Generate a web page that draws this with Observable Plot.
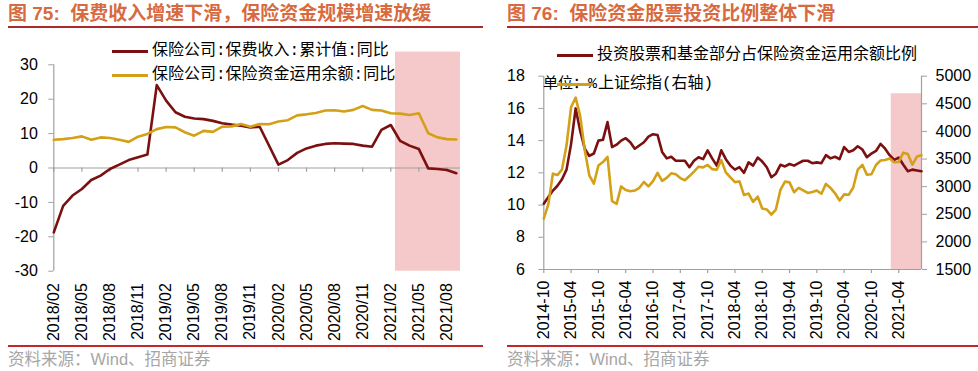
<!DOCTYPE html>
<html><head><meta charset="utf-8">
<script src="https://cdn.jsdelivr.net/npm/d3@7"></script>
<script src="https://cdn.jsdelivr.net/npm/@observablehq/plot@0.6"></script>
<style>
body{margin:0;background:#fff;}
#root{position:relative;width:978px;height:371px;overflow:hidden;font-family:"Liberation Sans","Noto Sans CJK SC",sans-serif;}
#root svg{position:absolute;overflow:visible;}
.abs{position:absolute;white-space:pre;}
.title{font-size:19px;font-weight:bold;color:#D86A40;line-height:19px;}
.hr{position:absolute;height:2px;background:#A82A2A;}
.hr2{position:absolute;height:2px;background:#C4262B;}
.src{font-size:16.5px;color:#A6A6A6;line-height:16px;}
.leg{font-size:16px;font-family:"Liberation Mono","Noto Sans CJK SC",monospace;line-height:16px;color:#000;}
.sw{position:absolute;height:3px;}
</style></head>
<body><div id="root"></div>
<script>
// ---------- Figure 75 data ----------
const labels75 = ["2018/02","2018/05","2018/08","2018/11","2019/02","2019/05","2019/08","2019/11","2020/02","2020/05","2020/08","2020/11","2021/02","2021/05","2021/08"];
const premiumYoY = [-18.7,-11.0,-8.0,-6.1,-3.5,-2.2,-0.3,1.0,2.3,3.1,3.9,24.1,19.6,16.2,14.9,14.4,14.2,13.7,13.0,12.6,12.3,11.8,12.0,null,1.0,2.3,4.4,5.7,6.5,7.0,7.2,7.1,7.0,6.5,6.2,11.1,12.5,7.9,6.5,5.5,-0.1,-0.3,-0.6,-1.5];
const fundsYoY = [8.2,8.4,8.7,9.2,8.2,8.9,8.7,8.2,7.6,9.1,9.9,11.3,11.9,11.8,10.4,9.4,10.8,10.5,12.0,12.1,12.8,12.0,12.8,12.7,13.5,13.9,15.3,15.6,16.0,16.7,16.8,16.4,16.9,18.0,16.9,16.7,15.9,15.8,15.4,15.9,10.1,8.9,8.4,8.3];
const yTicks75 = [-30,-20,-10,0,10,20,30];
const shade75 = {from:"2021/03", to:"2021/09", top:33.7};
const name75a = "保险公司:保费收入:累计值:同比";
const name75b = "保险公司:保险资金运用余额:同比";

// ---------- Figure 76 data ----------
const labels76 = ["2014-10","2015-04","2015-10","2016-04","2016-10","2017-04","2017-10","2018-04","2018-10","2019-04","2019-10","2020-04","2020-10","2021-04"];
const stockRatio = [10.08,10.5,10.9,11.2,11.6,12.2,13.8,16.0,14.6,13.5,13.05,13.2,14.0,14.05,15.15,13.6,13.75,14.0,14.15,13.9,13.5,13.7,13.9,14.25,14.4,14.35,13.3,12.9,13.0,12.75,12.75,12.75,12.35,12.75,12.97,12.85,13.4,12.9,12.45,13.4,12.85,12.45,12.2,12.35,12.0,12.65,12.45,12.95,12.7,12.35,11.73,11.95,12.5,12.4,12.55,12.45,12.6,12.75,12.75,12.6,12.65,12.6,13.1,12.9,13.0,12.85,13.6,13.3,13.4,13.65,13.45,12.97,13.2,13.36,13.8,13.5,13.1,12.8,12.95,12.5,12.1,12.2,12.15,12.1];
const shIndex = [2420,2683,3235,3210,3310,3748,4442,4612,4277,3664,3206,3053,3383,3445,3539,2738,2688,3004,2938,2917,2930,2979,3085,3005,3100,3250,3104,3159,3242,3223,3155,3117,3192,3273,3361,3349,3393,3317,3307,3481,3259,3169,3082,3095,2847,2876,2725,2821,2603,2588,2494,2585,2941,3091,3078,2899,2979,2933,2886,2905,2929,2872,3050,2977,2880,2750,2860,2852,2985,3310,3396,3218,3225,3392,3473,3483,3509,3442,3447,3615,3591,3397,3544,3568];
const yTicks76L = [6,8,10,12,14,16,18];
const yTicks76R = [1500,2000,2500,3000,3500,4000,4500,5000];
const shade76 = {from:"2021-02", to:"2021-09", top:4682};
const name76a = "投资股票和基金部分占保险资金运用余额比例";
const name76b = "上证综指(右轴)";
const unit76 = "单位：%";

const RED = "#7B1010", GOLD = "#D4A017", PINK = "#F5C8C9", AX = "#A0A0A0";

const root = document.getElementById("root");
function el(cls, txt, css){const d=document.createElement("div");d.className=cls;if(txt!=null)d.textContent=txt;Object.assign(d.style,css);root.appendChild(d);return d;}

// ---------- categories ----------
const cats75 = d3.utcMonths(new Date(Date.UTC(2018,1,1)), new Date(Date.UTC(2021,9,1))).map(d3.utcFormat("%Y/%m"));
const cats76 = d3.utcMonths(new Date(Date.UTC(2014,9,1)), new Date(Date.UTC(2021,9,1))).map(d3.utcFormat("%Y-%m"));
const data75 = cats75.map((m,i)=>({i, m, p: premiumYoY[i], f: fundsYoY[i]}));
const data76 = cats76.map((m,i)=>({i, m, r: stockRatio[i], s: shIndex[i]}));
const tick75 = labels75.map(l=>cats75.indexOf(l));
const tick76 = labels76.map(l=>cats76.indexOf(l));
const n75 = cats75.length-1, n76 = cats76.length-1;

const style = {fontFamily:"'Liberation Sans', Arial, sans-serif", fontSize:"16px", background:"transparent", color:"#000"};

// ---------- left chart ----------
const left = Plot.plot({
  width: 490, height: 305,
  marginLeft: 53.3, marginRight: 34.2, marginTop: 24.3, marginBottom: 74.3,
  x: {type:"linear", domain:[0, n75], axis:null},
  y: {domain:[-30,30], axis:null},
  style,
  marks: [
    Plot.rect([shade75], {x1: d=>cats75.indexOf(d.from)-0.5, x2: d=>cats75.indexOf(d.to)+0.45, y1: -30, y2: d=>d.top, fill: PINK}),
    Plot.ruleX([0], {y1:-30, y2:30, stroke: AX, strokeWidth:1.2}),
    Plot.ruleY([0], {x1:0, x2:n75+0.45, stroke: AX, strokeWidth:1.2}),
    Plot.ruleX(tick75, {x: d=>d, y1:0, y2:-1.25, stroke: AX, strokeWidth:1.2}),
    Plot.axisY(yTicks75, {anchor:"left", label:null, tickSize:5, tickPadding:11, stroke: AX, fill:"#000", tickFormat: d=>String(d)}),
    Plot.axisX(tick75, {anchor:"bottom", label:null, tickSize:0, tickPadding:12, tickRotate:-90, tickFormat: i=>cats75[i], fill:"#000"}),
    Plot.line(data75.filter(d=>d.p!=null), {x:"i", y:"p", stroke: RED, strokeWidth:2.6}),
    Plot.line(data75.filter(d=>d.f!=null), {x:"i", y:"f", stroke: GOLD, strokeWidth:2.6})
  ]
});
left.style.left = "0px"; left.style.top = "40px";
root.appendChild(left);

// ---------- right chart ----------
const toL = v => 6 + (v-1500)/3500*12;
const fromL = y => 1500 + (y-6)/12*3500;
const right = Plot.plot({
  width: 488, height: 305,
  marginLeft: 53.3, marginRight: 57, marginTop: 35.7, marginBottom: 76,
  x: {type:"linear", domain:[0, n76], axis:null},
  y: {domain:[6,18], axis:null},
  style,
  marks: [
    Plot.rect([shade76], {x1: d=>cats76.indexOf(d.from)+0.35, x2: d=>cats76.indexOf(d.to), y1: 6, y2: d=>toL(d.top), fill: PINK}),
    Plot.ruleX([0, n76], {y1:6, y2:18, stroke: AX, strokeWidth:1.2}),
    Plot.ruleY([6], {x1:0, x2:n76, stroke: AX, strokeWidth:1.2}),
    Plot.ruleX(tick76, {x: d=>d, y1:6, y2:5.75, stroke: AX, strokeWidth:1.2}),
    Plot.axisY(yTicks76L, {anchor:"left", label:null, tickSize:5, tickPadding:14, stroke: AX, fill:"#000", tickFormat: d=>String(d)}),
    Plot.axisY(yTicks76R.map(toL), {anchor:"right", label:null, tickSize:5, tickPadding:9, stroke: AX, fill:"#000", tickFormat: d=>String(Math.round(fromL(d)))}),
    Plot.axisX(tick76, {anchor:"bottom", label:null, tickSize:0, tickPadding:11, tickRotate:-90, tickFormat: i=>cats76[i], fill:"#000"}),
    Plot.line(data76, {x:"i", y:"r", stroke: RED, strokeWidth:2.6}),
    Plot.line(data76, {x:"i", y: d=>toL(d.s), stroke: GOLD, strokeWidth:2.6})
  ]
});
right.style.left = "490px"; right.style.top = "40px";
root.appendChild(right);

// ---------- titles, rules, sources ----------
el("abs title", "图 75:  保费收入增速下滑，保险资金规模增速放缓", {left:"8px", top:"4px"});
el("abs title", "图 76:  保险资金股票投资比例整体下滑", {left:"507px", top:"4px"});
el("hr", null, {left:"8px", width:"475px", top:"26px"});
el("hr", null, {left:"507px", width:"471px", top:"26px"});
el("hr2", null, {left:"8px", width:"475px", top:"345px"});
el("hr2", null, {left:"507px", width:"471px", top:"345px"});
el("abs src", "资料来源：Wind、招商证券", {left:"8px", top:"351px"});
el("abs src", "资料来源：Wind、招商证券", {left:"507px", top:"351px"});

// ---------- legends ----------
el("sw", null, {left:"112px", width:"36px", top:"49.5px", background: RED});
el("abs leg", name75a, {left:"152px", top:"43px"});
el("sw", null, {left:"112px", width:"36px", top:"73.5px", background: GOLD});
el("abs leg", name75b, {left:"152px", top:"67px"});

el("sw", null, {left:"557px", width:"36px", top:"53.5px", background: RED});
el("abs leg", name76a, {left:"597px", top:"47px"});
el("abs leg", unit76, {left:"543px", top:"77px", fontSize:"15px"});
el("sw", null, {left:"557px", width:"36px", top:"83px", background: GOLD});
el("abs leg", name76b, {left:"598px", top:"76px"});
</script></body></html>
